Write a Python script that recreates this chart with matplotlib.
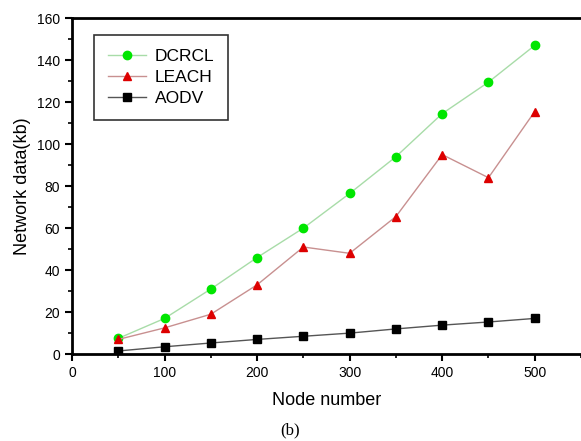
import matplotlib
matplotlib.use('Agg')
import matplotlib.pyplot as plt
from matplotlib.ticker import MultipleLocator

plt.rcParams['font.family'] = ['Liberation Sans', 'DejaVu Sans']

# node counts and network data (kb) for each protocol
nodes = [50, 100, 150, 200, 250, 300, 350, 400, 450, 500]
dcrcl = [7.5, 17, 31, 46, 60, 76.5, 94, 114.5, 129.5, 147]
leach = [7, 12.5, 19, 33, 51, 48, 65.5, 95, 84, 115.5]
aodv = [1.5, 3.5, 5.3, 7, 8.5, 10, 12, 13.8, 15.3, 17]

fig = plt.figure(figsize=(5.81, 4.41), dpi=100)
ax = fig.add_axes([0.124, 0.197, 0.876, 0.762])

ax.plot(nodes, dcrcl, color='#a8dca8', lw=1, marker='o', ms=6,
        mfc='#00e600', mec='#00e600', label='DCRCL')
ax.plot(nodes, leach, color='#c89090', lw=1, marker='^', ms=6,
        mfc='#dd0000', mec='#dd0000', label='LEACH')
ax.plot(nodes, aodv, color='#555555', lw=1, marker='s', ms=5.5,
        mfc='black', mec='black', label='AODV')

ax.set_xlim(0, 550)
ax.set_ylim(0, 160)
ax.xaxis.set_major_locator(MultipleLocator(100))
ax.xaxis.set_minor_locator(MultipleLocator(50))
ax.yaxis.set_major_locator(MultipleLocator(20))
ax.yaxis.set_minor_locator(MultipleLocator(10))
ax.tick_params(which='major', direction='out', length=5, width=1.5, labelsize=10)
ax.tick_params(which='minor', direction='out', length=3, width=1.2)

for s in ['left', 'bottom', 'top']:
    ax.spines[s].set_linewidth(2)
ax.spines['right'].set_visible(False)

ax.set_xlabel('Node number', fontsize=13, labelpad=9)
ax.set_ylabel('Network data(kb)', fontsize=13)

leg = ax.legend(loc='upper left', bbox_to_anchor=(0.043, 0.95), fontsize=12.5,
                frameon=True, fancybox=False, edgecolor='black', borderaxespad=0,
                handlelength=2.2, handletextpad=0.5, borderpad=0.8, labelspacing=0.35)
leg.get_frame().set_linewidth(1.2)

fig.text(0.5, 0.015, '(b)', ha='center', fontsize=12, family='Liberation Serif')

fig.savefig('out.png', dpi=100)
